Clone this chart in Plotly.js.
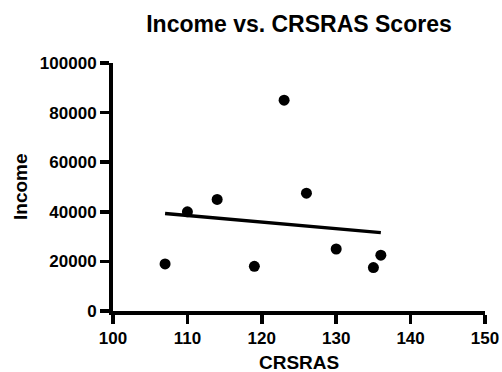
<!DOCTYPE html>
<html>
<head>
<meta charset="utf-8">
<script src="https://cdn.plot.ly/plotly-3.0.1.min.js"></script>
<style>
html,body{margin:0;padding:0;background:#fff;}
#chart{width:502px;height:372px;}
</style>
</head>
<body>
<div id="chart"></div>
<script>
// Data
const crsras = [107, 110, 114, 119, 123, 126, 130, 135, 136];
const income = [19000, 40000, 45000, 18000, 85000, 47500, 25000, 17500, 22500];
// Fitted line endpoints
const fitX = [107, 136];
const fitY = [39300, 31600];
const xTicks = [100, 110, 120, 130, 140, 150];
const yTicks = [0, 20000, 40000, 60000, 80000, 100000];

const FONT = "'Liberation Sans', Arial, Helvetica, sans-serif";

const traces = [
  {
    x: crsras, y: income, type: 'scatter', mode: 'markers',
    marker: {color: '#000', size: 11},
    hoverinfo: 'x+y', showlegend: false, cliponaxis: false
  },
  {
    x: fitX, y: fitY, type: 'scatter', mode: 'lines',
    line: {color: '#000', width: 3.5},
    showlegend: false
  }
];

const layout = {
  width: 502, height: 372,
  paper_bgcolor: '#fff', plot_bgcolor: '#fff',
  margin: {l: 113, r: 17, t: 63, b: 61},
  font: {family: FONT, color: '#000'},
  title: {
    text: '<b>Income vs. CRSRAS Scores</b>',
    font: {family: FONT, size: 23, color: '#000'},
    x: 0.5, xref: 'paper', xanchor: 'center',
    y: 0.935, yref: 'container', yanchor: 'middle'
  },
  xaxis: {
    range: [100, 150],
    tickvals: xTicks, ticktext: xTicks.map(v => '<b>' + v + '</b>'),
    showgrid: false, zeroline: false,
    showline: true, linecolor: '#000', linewidth: 4,
    ticks: 'outside', ticklen: 9, tickwidth: 3.5, tickcolor: '#000',
    tickfont: {family: FONT, size: 17, color: '#000', weight: 700},
    automargin: false, fixedrange: true
  },
  yaxis: {
    range: [0, 100000],
    tickvals: yTicks, ticktext: yTicks.map(v => '<b>' + v + '</b>'),
    showgrid: false, zeroline: false,
    showline: true, linecolor: '#000', linewidth: 4,
    ticks: 'outside', ticklen: 9, tickwidth: 3.5, tickcolor: '#000',
    tickfont: {family: FONT, size: 17, color: '#000', weight: 700},
    automargin: false, fixedrange: true
  },
  annotations: [
    {
      text: '<b>CRSRAS</b>', xref: 'paper', yref: 'paper',
      x: 0.5, y: -0.207, xanchor: 'center', yanchor: 'middle',
      showarrow: false, font: {family: FONT, size: 19, color: '#000'}
    },
    {
      text: '<b>Income</b>', xref: 'paper', yref: 'paper',
      x: -0.25, y: 0.5, xanchor: 'center', yanchor: 'middle', textangle: -90,
      showarrow: false, font: {family: FONT, size: 19, color: '#000'}
    }
  ]
};

Plotly.newPlot('chart', traces, layout, {displayModeBar: false, staticPlot: true});
</script>
</body>
</html>
